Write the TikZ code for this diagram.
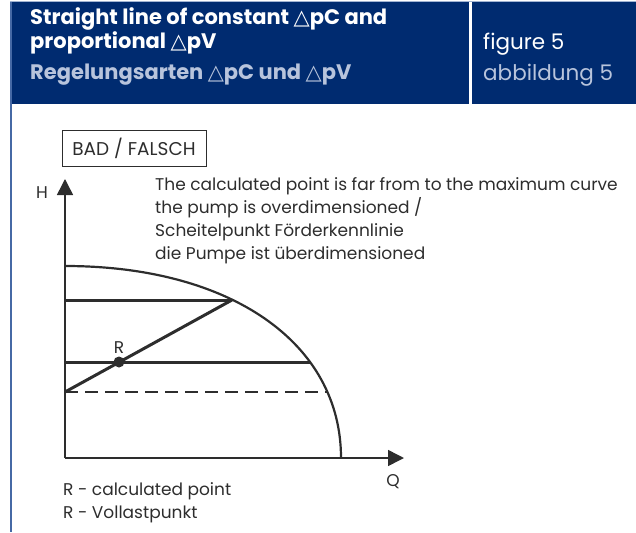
\documentclass[tikz,border=0pt]{standalone}
\usepackage{fontspec}
\setmainfont{Poppins}
\newfontfamily\symfont{DejaVu Sans}
\usetikzlibrary{arrows.meta}
\definecolor{hdrblue}{RGB}{0,43,112}
\definecolor{hdrpale}{RGB}{184,196,220}
\definecolor{frameblue}{RGB}{70,105,165}
\definecolor{inkgray}{RGB}{45,45,45}
\newcommand{\dtri}{{\symfont\char"25B3}}
\tikzset{pumpfig/.style={x=1pt,y=-1pt,inkgray,font=\fontsize{17}{22.7}\selectfont}}
\tikzset{axisline/.style={line width=1.5pt,-{Triangle[width=16pt,length=16pt]}},
         ctrlline/.style={line width=3pt},
         hdrtext/.style={anchor=base west,inner sep=0pt,font=\fontsize{21}{22}\selectfont}}

\begin{document}
\begin{tikzpicture}[pumpfig]
    \useasboundingbox (0,0) rectangle (636,532);
    % header band
    \fill[hdrblue] (10,2) rectangle (636,104);
    \draw[white,line width=3pt] (470.5,2) -- (470.5,104);
    \draw[frameblue!50,line width=1pt] (10,1.5) -- (636,1.5);
    \draw[frameblue,line width=1.5pt] (11,2) -- (11,532);
    \node[hdrtext,white] (t1) at (30,25) {\bfseries Straight line of constant \dtri pC and};
    \node[hdrtext,white] (t2) at (30,49) {\bfseries proportional \dtri pV};
    \node[hdrtext,hdrpale] (t3) at (30,80) {\bfseries Regelungsarten \dtri pC und \dtri pV};
    \node[hdrtext,white,font=\fontsize{21.5}{22}\selectfont] (f1) at (483,50) {figure 5};
    \node[hdrtext,hdrpale,font=\fontsize{21.5}{22}\selectfont] (f2) at (483,81) {abbildung 5};
    % points of the chart
    \coordinate (O) at (65,458);
    \coordinate (ytip) at (65,179);
    \coordinate (xtip) at (404,458);
    \coordinate (Htop) at (65,266);
    \coordinate (Qmax) at (341,458);
    \coordinate (L1) at (65,300);   \coordinate (A) at (232,300);
    \coordinate (L2) at (65,362);   \coordinate (B) at (311,362);
    \coordinate (L3) at (65,392);   \coordinate (C) at (328,392);
    % axes and pump curve
    \draw[axisline] (O) -- (ytip);
    \draw[axisline] (O) -- (xtip);
    \draw[line width=2.2pt] (Htop) .. controls (230.6,266) and (341,342.8) .. (Qmax);
    \draw[ctrlline] (L1) -- (A);
    \draw[ctrlline] (L2) -- (B);
    \draw[ctrlline] (L3) -- (A);
    \draw[line width=1.5pt,dash pattern=on 13pt off 7pt] (L3) -- (C);
    \fill (119,362) circle (5.5) coordinate (R);
    % labels
    \node (Hlab) at (42,193) {H};
    \node (Qlab) at (393,482) {Q};
    \node (Rlab) at (119,348) {R};
    \node[draw,line width=1pt,minimum width=144pt,minimum height=36pt,inner sep=0pt,
          font=\fontsize{18.5}{22}\selectfont] (bad) at (134,148) {BAD / FALSCH};
    \node[anchor=base west,inner sep=0pt,align=left] (note) at (155,259)
        {The calculated point is far from to the maximum curve\\
         the pump is overdimensioned /\\
         Scheitelpunkt Förderkennlinie\\
         die Pumpe ist überdimensioned};
    \node[anchor=base west,inner sep=0pt,align=left] (legend) at (63,518)
        {R - calculated point\\
         R - Vollastpunkt};
\end{tikzpicture}
\end{document}
